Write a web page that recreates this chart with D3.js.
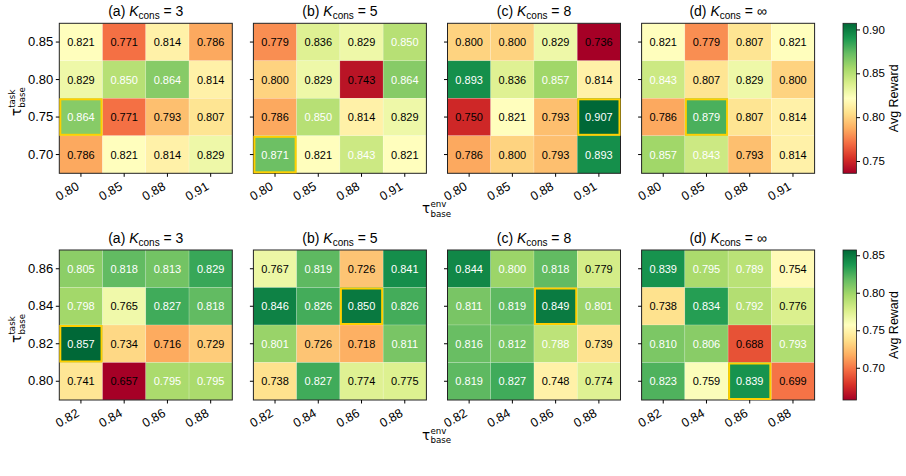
<!DOCTYPE html>
<html>
<head>
<meta charset="utf-8">
<script src="https://cdn.jsdelivr.net/npm/d3@7"></script>
<style>
  body { margin: 0; background: #fff; }
  svg text { font-family: "Liberation Sans", Arial, sans-serif; fill: #000; }
</style>
</head>
<body>
<div id="chart"></div>
<script>
// tick labels
var xTicksTop = ["0.80", "0.85", "0.88", "0.91"];
var yTicksTop = ["0.85", "0.80", "0.75", "0.70"];
var xTicksBottom = ["0.82", "0.84", "0.86", "0.88"];
var yTicksBottom = ["0.86", "0.84", "0.82", "0.80"];
var panelTags = ["(a)", "(b)", "(c)", "(d)"];
var kValues = ["3", "5", "8", "\u221e"];

// top row values (rows = task threshold from top to bottom)
var topA = [[0.821, 0.771, 0.814, 0.786], [0.829, 0.850, 0.864, 0.814], [0.864, 0.771, 0.793, 0.807], [0.786, 0.821, 0.814, 0.829]];
var topB = [[0.779, 0.836, 0.829, 0.850], [0.800, 0.829, 0.743, 0.864], [0.786, 0.850, 0.814, 0.829], [0.871, 0.821, 0.843, 0.821]];
var topC = [[0.800, 0.800, 0.829, 0.736], [0.893, 0.836, 0.857, 0.814], [0.750, 0.821, 0.793, 0.907], [0.786, 0.800, 0.793, 0.893]];
var topD = [[0.821, 0.779, 0.807, 0.821], [0.843, 0.807, 0.829, 0.800], [0.786, 0.879, 0.807, 0.814], [0.857, 0.843, 0.793, 0.814]];
// bottom row values
var botA = [[0.805, 0.818, 0.813, 0.829], [0.798, 0.765, 0.827, 0.818], [0.857, 0.734, 0.716, 0.729], [0.741, 0.657, 0.795, 0.795]];
var botB = [[0.767, 0.819, 0.726, 0.841], [0.846, 0.826, 0.850, 0.826], [0.801, 0.726, 0.718, 0.811], [0.738, 0.827, 0.774, 0.775]];
var botC = [[0.844, 0.800, 0.818, 0.779], [0.811, 0.819, 0.849, 0.801], [0.816, 0.812, 0.788, 0.739], [0.819, 0.827, 0.748, 0.774]];
var botD = [[0.839, 0.795, 0.789, 0.754], [0.738, 0.834, 0.792, 0.776], [0.810, 0.806, 0.688, 0.793], [0.823, 0.759, 0.839, 0.699]];

// highlighted (best) cell per panel: [row, col]
var topBest = [[2, 0], [3, 0], [2, 3], [2, 1]];
var botBest = [[2, 0], [1, 2], [1, 2], [3, 2]];

var cbarTicksTop = [0.75, 0.80, 0.85, 0.90];
var cbarTicksBottom = [0.70, 0.75, 0.80, 0.85];

var width = 906, height = 476;
var svg = d3.select("#chart").append("svg")
    .attr("width", width)
    .attr("height", height);

// matplotlib style RdYlGn: linear between the 11 brewer colours
var brewer = d3.schemeRdYlGn[11];
var cmap = d3.scaleLinear()
    .domain(d3.range(11).map(function (i) { return i / 10; }))
    .range(brewer)
    .interpolate(d3.interpolateRgb);

var panelW = 173, panelH = 150, panelStep = 194.1, panelX0 = 59.3;

function drawRow(panels, best, xt, yt, top, cbarTicks) {
    var all = d3.merge(panels.map(function (p) { return d3.merge(p); }));
    var ext = d3.extent(all);
    var norm = d3.scaleLinear().domain(ext).range([0, 1]);

    panels.forEach(function (data, pi) {
        var left = panelX0 + pi * panelStep;
        var g = svg.append("g").attr("transform", "translate(" + left + "," + top + ")");
        var x = d3.scaleBand().domain(xt).range([0, panelW]);
        var y = d3.scaleBand().domain(yt).range([0, panelH]);

        var cells = [];
        data.forEach(function (row, r) {
            row.forEach(function (v, c) { cells.push({r: r, c: c, v: v}); });
        });

        g.selectAll("rect.cell").data(cells).enter().append("rect")
            .attr("class", "cell")
            .attr("x", function (d) { return x(xt[d.c]); })
            .attr("y", function (d) { return y(yt[d.r]); })
            .attr("width", x.bandwidth())
            .attr("height", y.bandwidth())
            .attr("fill", function (d) { return cmap(norm(d.v)); })
            .attr("stroke", "#fff")
            .attr("stroke-opacity", 0.35)
            .attr("stroke-width", 0.5);

        g.selectAll("text.val").data(cells).enter().append("text")
            .attr("class", "val")
            .attr("x", function (d) { return x(xt[d.c]) + x.bandwidth() / 2; })
            .attr("y", function (d) { return y(yt[d.r]) + y.bandwidth() / 2; })
            .attr("dy", "0.36em")
            .attr("text-anchor", "middle")
            .style("font-size", "11px")
            .style("fill", function (d) { return norm(d.v) > 0.62 ? "#fff" : "#000"; })
            .text(function (d) { return d.v.toFixed(3); });

        // frame
        g.append("rect")
            .attr("width", panelW).attr("height", panelH)
            .attr("fill", "none").attr("stroke", "#222").attr("stroke-width", 1);

        // best cell
        var b = best[pi];
        g.append("rect")
            .attr("x", x(xt[b[1]]) + 1)
            .attr("y", y(yt[b[0]]) + 1)
            .attr("width", x.bandwidth() - 2)
            .attr("height", y.bandwidth() - 2)
            .attr("fill", "none")
            .attr("stroke", "#ffd000")
            .attr("stroke-width", 2);

        // x axis
        var xa = g.append("g").attr("transform", "translate(0," + panelH + ")")
            .call(d3.axisBottom(x).tickSize(3.5).tickSizeOuter(0));
        xa.select(".domain").remove();
        xa.selectAll("text")
            .attr("y", 0).attr("dy", null)
            .attr("text-anchor", "end")
            .attr("transform", "translate(-1,15.5) rotate(-30)")
            .style("font-size", "12.5px");

        // y axis
        var ya = g.append("g").call(d3.axisLeft(y).tickSize(3.5).tickSizeOuter(0).tickPadding(2.5));
        ya.select(".domain").remove();
        ya.selectAll("text").style("font-size", "13px");
        if (pi > 0) ya.selectAll("text").remove();

        // title
        var t = g.append("text")
            .attr("x", panelW / 2).attr("y", -7.5)
            .attr("text-anchor", "middle")
            .style("font-size", "14px");
        t.append("tspan").text(panelTags[pi] + " ");
        t.append("tspan").style("font-style", "italic").text("K");
        t.append("tspan").style("font-size", "10px").attr("dy", 3).text("cons");
        t.append("tspan").attr("dy", -3).text(" = " + kValues[pi]);
    });

    // colorbar
    var cbX = 843, cbW = 13.5;
    var cy = d3.scaleLinear().domain(ext).range([top + panelH, top]);
    var gid = "grad" + Math.round(top);
    var grad = svg.append("defs").append("linearGradient")
        .attr("id", gid).attr("x1", 0).attr("y1", 1).attr("x2", 0).attr("y2", 0);
    d3.range(0, 1.0001, 0.05).forEach(function (s) {
        grad.append("stop").attr("offset", s).attr("stop-color", cmap(s));
    });
    svg.append("rect")
        .attr("x", cbX).attr("y", top)
        .attr("width", cbW).attr("height", panelH)
        .attr("fill", "url(#" + gid + ")")
        .attr("stroke", "#222").attr("stroke-width", 0.8);
    var ca = svg.append("g").attr("transform", "translate(" + (cbX + cbW) + ",0)")
        .call(d3.axisRight(cy).tickValues(cbarTicks).tickFormat(d3.format(".2f")).tickSize(3.5).tickPadding(2.5));
    ca.select(".domain").remove();
    ca.selectAll("text").style("font-size", "11.5px");
    svg.append("text")
        .attr("transform", "translate(897.5," + (top + panelH / 2) + ") rotate(-90)")
        .attr("text-anchor", "middle")
        .style("font-size", "12.5px")
        .text("Avg Reward");

    // axis labels
    tauLabel(svg, 21, top + panelH / 2 + 18, "task", true);
    tauLabel(svg, 422, top + panelH + 39.7, "env", false);
}

function tauLabel(parent, x, y, sup, rotated) {
    var g = parent.append("g")
        .attr("transform", "translate(" + x + "," + y + ")" + (rotated ? " rotate(-90)" : ""));
    var tau = g.append("text")
        .style("font-family", "'DejaVu Sans', sans-serif")
        .style("font-size", "13.5px")
        .text("\u03c4");
    var w = tau.node().getComputedTextLength();
    g.append("text").attr("x", w + 0.3).attr("y", -6)
        .style("font-family", "'DejaVu Sans', sans-serif")
        .style("font-size", "8.7px").text(sup);
    g.append("text").attr("x", w + 0.3).attr("y", 3.5)
        .style("font-family", "'DejaVu Sans', sans-serif")
        .style("font-size", "8.7px").text("base");
}

drawRow([topA, topB, topC, topD], topBest, xTicksTop, yTicksTop, 23.3, cbarTicksTop);
drawRow([botA, botB, botC, botD], botBest, xTicksBottom, yTicksBottom, 250, cbarTicksBottom);
</script>
</body>
</html>
